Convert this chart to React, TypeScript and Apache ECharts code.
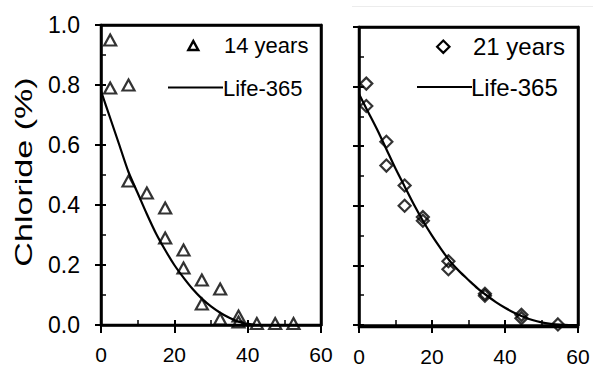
import React, { useEffect, useRef } from "react";
import * as echarts from "echarts";

// Chloride profiles: depth (mm) vs chloride content (% by mass)
const depthTicks = [0, 20, 40, 60];
const chlorideTicks = [0, 0.2, 0.4, 0.6, 0.8, 1.0];

// 14-year cores
const depth14 = [2.5, 2.5, 7.5, 7.5, 12.5, 17.5, 17.5, 22.5, 22.5, 27.5, 27.5, 32.5, 32.5, 37.5, 37.5, 42.5, 47.5, 52.5];
const chloride14 = [0.95, 0.79, 0.8, 0.48, 0.44, 0.39, 0.29, 0.25, 0.19, 0.15, 0.07, 0.12, 0.02, 0.03, 0.01, 0.005, 0.005, 0.005];

// 21-year cores
const depth21 = [2, 2, 7.5, 7.5, 12.5, 12.5, 17.5, 17.5, 24.5, 24.5, 34.5, 34.5, 44.5, 44.5, 54.5];
const chloride21 = [0.81, 0.735, 0.615, 0.535, 0.468, 0.4, 0.362, 0.35, 0.214, 0.187, 0.105, 0.098, 0.034, 0.023, 0.002];

// Life-365 predicted profiles
const modelDepth14 = [0, 2.5, 5, 7.5, 10, 12.5, 15, 17.5, 20, 22.5, 25, 27.5, 30, 32.5, 35, 37.5, 40, 42.5, 45];
const model14 = [0.78, 0.69, 0.6, 0.51, 0.44, 0.37, 0.305, 0.25, 0.2, 0.158, 0.12, 0.088, 0.062, 0.041, 0.024, 0.011, 0.004, 0.0, 0.0];

const modelDepth21 = [0, 2.5, 5, 7.5, 10, 12.5, 15, 17.5, 20, 22.5, 25, 27.5, 30, 32.5, 35, 37.5, 40, 42.5, 45, 47.5, 50, 52.5, 55, 57.5, 60];
const model21 = [0.775, 0.715, 0.655, 0.59, 0.525, 0.465, 0.405, 0.35, 0.3, 0.255, 0.213, 0.18, 0.151, 0.123, 0.099, 0.077, 0.058, 0.041, 0.028, 0.017, 0.009, 0.004, 0.001, 0.0, 0.0];

const FONT = "Liberation Sans, Arial, sans-serif";
const INK = "#000";
const FRAME_W = 2.5;

// Panel placement (pixels)
const panels = [
  { left: 101, top: 25, width: 220, height: 300 },
  { left: 359, top: 27, width: 219, height: 300 },
];

const pairs = (xs: number[], ys: number[]) => xs.map((x, i) => [x, ys[i]]);
const step = (ticks: number[]) => ticks[1] - ticks[0];
const last = (ticks: number[]) => ticks[ticks.length - 1];

// Each panel gets three x axes: the labelled bottom axis with outward ticks,
// an unlabelled twin with inward (and minor) ticks, and a bare top edge.
function depthAxes(gridIndex: number, labelMargin: number) {
  const common = {
    type: "value",
    gridIndex,
    min: depthTicks[0],
    max: last(depthTicks),
    interval: step(depthTicks),
    splitLine: { show: false },
  };
  return [
    {
      ...common,
      position: "bottom",
      axisLine: { show: true, onZero: false, lineStyle: { color: INK, width: FRAME_W } },
      axisTick: { show: true, inside: false, length: 8, lineStyle: { color: INK, width: 2 } },
      axisLabel: { fontSize: 21, color: INK, fontFamily: FONT, margin: labelMargin },
    },
    {
      ...common,
      position: "bottom",
      axisLine: { show: false, onZero: false },
      axisTick: { show: true, inside: true, length: 5, lineStyle: { color: INK, width: 2 } },
      minorTick: { show: true, splitNumber: 2, length: 5, lineStyle: { color: INK, width: 1.5 } },
      axisLabel: { show: false },
    },
    {
      ...common,
      position: "top",
      axisLine: { show: true, onZero: false, lineStyle: { color: INK, width: FRAME_W } },
      axisTick: { show: false },
      axisLabel: { show: false },
    },
  ];
}

// Same idea for the chloride axes: labelled left axis, inward twin, bare right edge.
function chlorideAxes(gridIndex: number, showLabels: boolean) {
  const common = {
    type: "value",
    gridIndex,
    min: chlorideTicks[0],
    max: last(chlorideTicks),
    interval: step(chlorideTicks),
    splitLine: { show: false },
  };
  return [
    {
      ...common,
      position: "left",
      axisLine: { show: true, onZero: false, lineStyle: { color: INK, width: FRAME_W } },
      axisTick: { show: true, inside: false, length: 6, lineStyle: { color: INK, width: 2 } },
      axisLabel: {
        show: showLabels,
        fontSize: 23,
        color: INK,
        fontFamily: FONT,
        margin: 21,
        formatter: (v: number) => v.toFixed(1),
      },
    },
    {
      ...common,
      position: "left",
      axisLine: { show: false, onZero: false },
      axisTick: { show: true, inside: true, length: 5, lineStyle: { color: INK, width: 2 } },
      minorTick: { show: true, splitNumber: 2, length: 5, lineStyle: { color: INK, width: 1.5 } },
      axisLabel: { show: false },
    },
    {
      ...common,
      position: "right",
      axisLine: { show: true, onZero: false, lineStyle: { color: INK, width: FRAME_W } },
      axisTick: { show: false },
      axisLabel: { show: false },
    },
  ];
}

const legendText = (text: string, x: number, y: number, size: number) => ({
  type: "text",
  x,
  y,
  style: {
    text,
    fill: INK,
    fontSize: size,
    fontFamily: FONT,
    align: "left",
    verticalAlign: "middle",
  },
});

// Outline of each panel
const frames = panels.map((p) => ({
  type: "rect",
  z: 100,
  silent: true,
  shape: { x: p.left, y: p.top, width: p.width, height: p.height },
  style: { fill: "none", stroke: INK, lineWidth: FRAME_W },
}));

const graphics = [
  // y-axis title
  {
    type: "text",
    x: 23,
    y: 172,
    rotation: Math.PI / 2,
    scaleX: 1.42,
    style: {
      text: "Chloride (%)",
      fill: INK,
      fontSize: 24,
      fontFamily: FONT,
      align: "center",
      verticalAlign: "middle",
    },
  },
  // left panel key
  {
    type: "polygon",
    shape: { points: [[193.3, 41], [198.2, 50], [188.4, 50]] },
    style: { fill: "#fff", stroke: INK, lineWidth: 2.5 },
  },
  legendText("14 years", 224, 45.5, 22),
  {
    type: "line",
    shape: { x1: 168, y1: 87.5, x2: 223, y2: 87.5 },
    style: { stroke: INK, lineWidth: 2.2 },
  },
  legendText("Life-365", 223, 88, 22),
  // right panel key
  {
    type: "polygon",
    shape: { points: [[443.3, 40.5], [449.5, 46.7], [443.3, 52.9], [437.1, 46.7]] },
    style: { fill: "#fff", stroke: INK, lineWidth: 2.2 },
  },
  legendText("21 years", 473, 46.5, 24),
  {
    type: "line",
    shape: { x1: 417, y1: 87, x2: 472, y2: 87 },
    style: { stroke: INK, lineWidth: 2.2 },
  },
  legendText("Life-365", 471, 87.5, 24),
  // thin rule above the right panel
  {
    type: "line",
    shape: { x1: 352, y1: 6.5, x2: 593, y2: 6.5 },
    style: { stroke: "#ececec", lineWidth: 1 },
  },
  ...frames,
];

const option = {
  animation: false,
  backgroundColor: "#fff",
  grid: panels,
  xAxis: [...depthAxes(0, 19), ...depthAxes(1, 21)],
  yAxis: [...chlorideAxes(0, true), ...chlorideAxes(1, false)],
  series: [
    {
      type: "scatter",
      name: "14 years",
      xAxisIndex: 0,
      yAxisIndex: 0,
      symbol: "triangle",
      symbolSize: [12, 11],
      itemStyle: { color: "rgba(0,0,0,0)", borderColor: INK, borderWidth: 2.2 },
      data: pairs(depth14, chloride14),
    },
    {
      type: "line",
      name: "Life-365",
      xAxisIndex: 0,
      yAxisIndex: 0,
      symbol: "none",
      smooth: 0.3,
      lineStyle: { color: INK, width: 2.2 },
      data: pairs(modelDepth14, model14),
    },
    {
      type: "scatter",
      name: "21 years",
      xAxisIndex: 3,
      yAxisIndex: 3,
      symbol: "diamond",
      symbolSize: [12, 12],
      itemStyle: { color: "rgba(0,0,0,0)", borderColor: INK, borderWidth: 2.2 },
      data: pairs(depth21, chloride21),
    },
    {
      type: "line",
      name: "Life-365",
      xAxisIndex: 3,
      yAxisIndex: 3,
      symbol: "none",
      smooth: 0.3,
      lineStyle: { color: INK, width: 2.2 },
      data: pairs(modelDepth21, model21),
    },
  ],
  graphic: graphics,
};

export default function App() {
  const ref = useRef<HTMLDivElement>(null);

  useEffect(() => {
    if (!ref.current) return;
    const chart = echarts.init(ref.current, null, { renderer: "svg" });
    chart.setOption(option as any);
    return () => chart.dispose();
  }, []);

  return (
    <div
      ref={ref}
      style={{ position: "fixed", left: 0, top: 0, width: 593, height: 367, background: "#fff" }}
    />
  );
}
